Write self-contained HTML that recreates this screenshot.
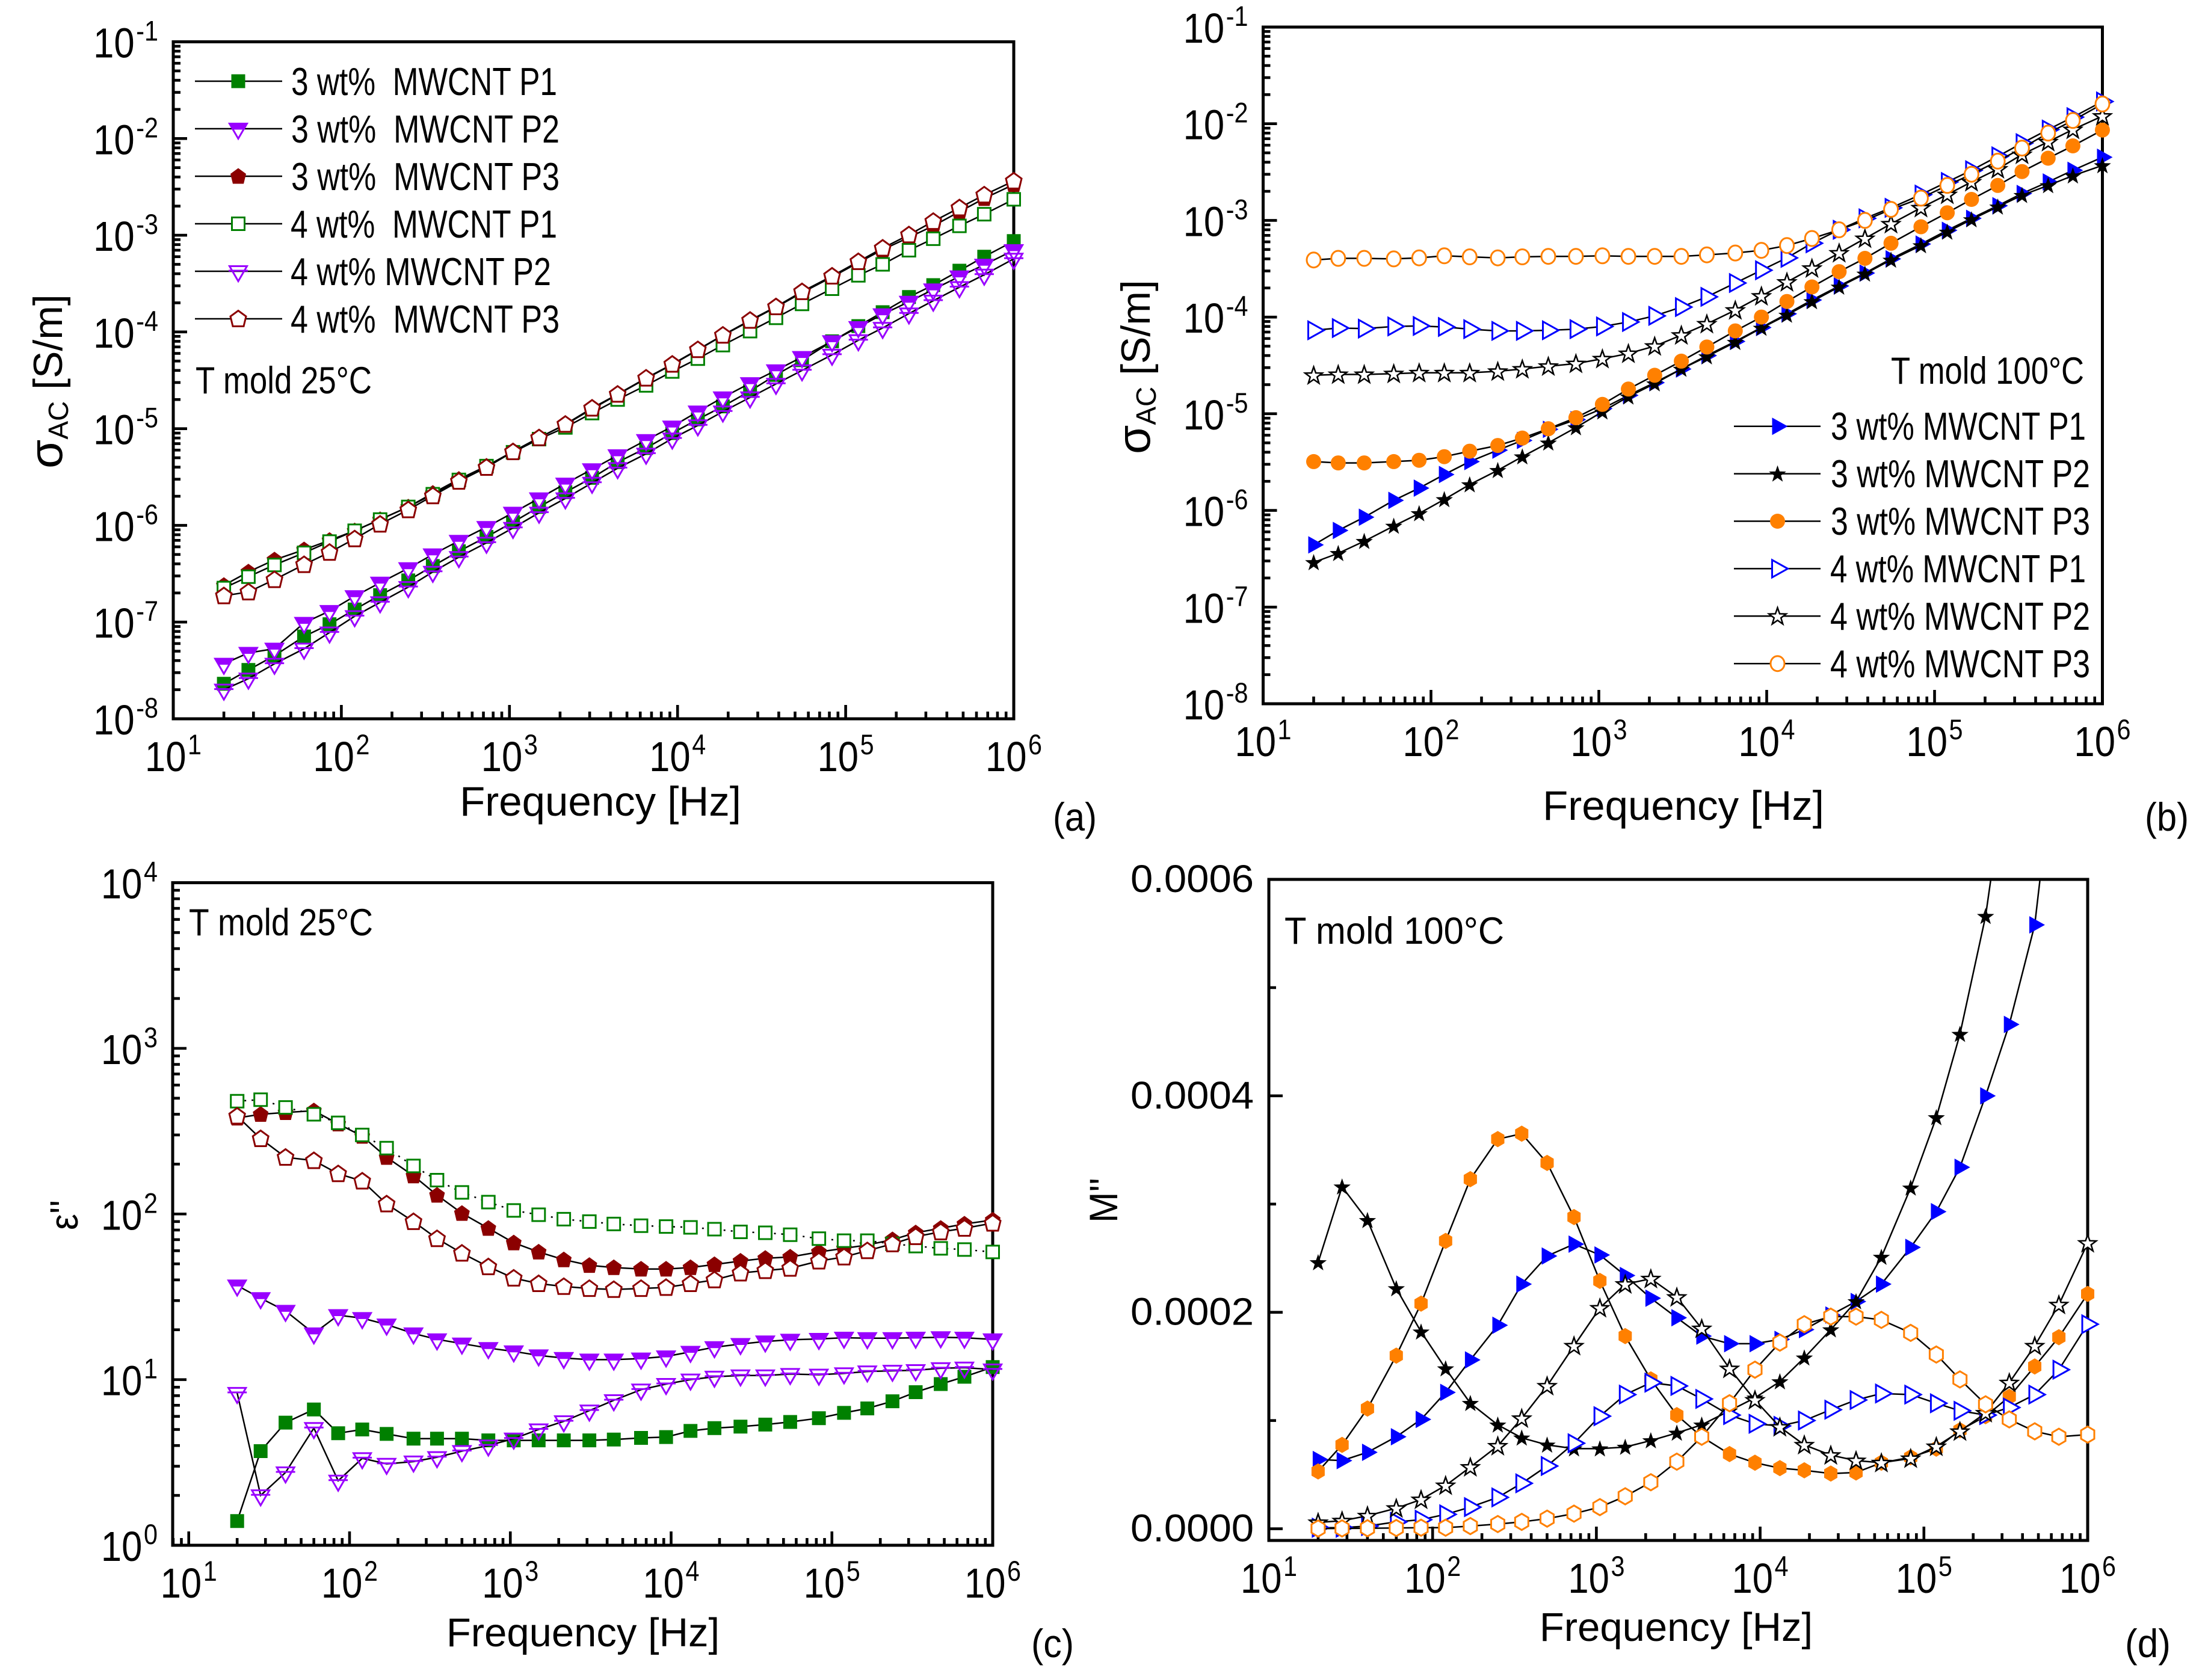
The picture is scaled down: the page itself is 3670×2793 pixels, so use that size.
<!DOCTYPE html>
<html lang="en">
<head>
<meta charset="utf-8">
<title>AC conductivity, permittivity and electric modulus of MWCNT composites</title>
<style>
html,body{margin:0;padding:0;background:#fff;}
svg{display:block;font-family:"Liberation Sans",sans-serif;fill:#000;}
text{white-space:pre;}
</style>
</head>
<body>
<svg id="fig" xmlns="http://www.w3.org/2000/svg" width="3670" height="2793" viewBox="0 0 3670 2793">
  <rect x="0" y="0" width="3670" height="2793" fill="#fff"/>
  <defs>
    <clipPath id="clip-d"><rect x="2079" y="1462" width="1421" height="1130"/></clipPath>
  </defs>
  <g id="panel-a"></g>
  <g id="panel-b"></g>
  <g id="panel-c"></g>
  <g id="panel-d"></g>

  <!-- panel a text -->
  <text x="998" y="1356" text-anchor="middle" font-size="69">Frequency [Hz]</text>
  <text transform="translate(103,634) rotate(-90)" text-anchor="middle" font-size="68"><tspan font-size="78">σ</tspan><tspan font-size="46" dy="10">AC</tspan><tspan dy="-10"> [S/m]</tspan></text>
  <text x="1750" y="1381" font-size="66" textLength="73" lengthAdjust="spacingAndGlyphs">(a)</text>
  <text x="325" y="654" font-size="63" textLength="293" lengthAdjust="spacingAndGlyphs">T mold 25°C</text>
  <text x="484" y="158" font-size="65" textLength="442" lengthAdjust="spacingAndGlyphs">3 wt%  MWCNT P1</text>
  <text x="484" y="237" font-size="65" textLength="446" lengthAdjust="spacingAndGlyphs">3 wt%  MWCNT P2</text>
  <text x="484" y="316" font-size="65" textLength="446" lengthAdjust="spacingAndGlyphs">3 wt%  MWCNT P3</text>
  <text x="483" y="395" font-size="65" textLength="443" lengthAdjust="spacingAndGlyphs">4 wt%  MWCNT P1</text>
  <text x="483" y="474" font-size="65" textLength="433" lengthAdjust="spacingAndGlyphs">4 wt% MWCNT P2</text>
  <text x="483" y="553" font-size="65" textLength="447" lengthAdjust="spacingAndGlyphs">4 wt%  MWCNT P3</text>

  <!-- panel b text -->
  <text x="2798" y="1363" text-anchor="middle" font-size="69">Frequency [Hz]</text>
  <text transform="translate(1911,610) rotate(-90)" text-anchor="middle" font-size="68"><tspan font-size="78">σ</tspan><tspan font-size="46" dy="10">AC</tspan><tspan dy="-10"> [S/m]</tspan></text>
  <text x="3565" y="1381" font-size="66" textLength="73" lengthAdjust="spacingAndGlyphs">(b)</text>
  <text x="3143" y="638" font-size="63" textLength="321" lengthAdjust="spacingAndGlyphs">T mold 100°C</text>
  <text x="3043" y="731" font-size="65" textLength="424" lengthAdjust="spacingAndGlyphs">3 wt% MWCNT P1</text>
  <text x="3043" y="810" font-size="65" textLength="431" lengthAdjust="spacingAndGlyphs">3 wt% MWCNT P2</text>
  <text x="3043" y="889" font-size="65" textLength="431" lengthAdjust="spacingAndGlyphs">3 wt% MWCNT P3</text>
  <text x="3042" y="968" font-size="65" textLength="425" lengthAdjust="spacingAndGlyphs">4 wt% MWCNT P1</text>
  <text x="3042" y="1047" font-size="65" textLength="432" lengthAdjust="spacingAndGlyphs">4 wt% MWCNT P2</text>
  <text x="3042" y="1126" font-size="65" textLength="432" lengthAdjust="spacingAndGlyphs">4 wt% MWCNT P3</text>

  <!-- panel c text -->
  <text x="969" y="2737" text-anchor="middle" font-size="67">Frequency [Hz]</text>
  <text transform="translate(129,2045) rotate(-90)" font-size="66" textLength="50" lengthAdjust="spacingAndGlyphs">ε''</text>
  <text x="1714" y="2755" font-size="66" textLength="71" lengthAdjust="spacingAndGlyphs">(c)</text>
  <text x="314" y="1555" font-size="63" textLength="306" lengthAdjust="spacingAndGlyphs">T mold 25°C</text>

  <!-- panel d text -->
  <text x="2786" y="2728" text-anchor="middle" font-size="67">Frequency [Hz]</text>
  <text transform="translate(1857,2033) rotate(-90)" font-size="66" textLength="75" lengthAdjust="spacingAndGlyphs">M''</text>
  <text x="3532" y="2755" font-size="66" textLength="76" lengthAdjust="spacingAndGlyphs">(d)</text>
  <text x="2135" y="1569" font-size="63" textLength="365" lengthAdjust="spacingAndGlyphs">T mold 100°C</text>
</svg>

<script>
// Shared frequency grid (Hz)
const frequency = [20,28,40,60,85,120,170,250,350,500,730,1050,1500,2150,3100,4400,6500,9300,13200,18600,27000,38500,55000,83000,119000,166000,238000,332000,475000,667000,1000000];

// Panel (a): sigma_AC [S/m], T mold 25 C
const a3P1 = [2.3e-8,3.2e-8,4.5e-8,7.1e-8,9.5e-8,1.35e-7,1.9e-7,2.7e-7,3.8e-7,5.4e-7,7.6e-7,1.08e-6,1.55e-6,2.2e-6,3.1e-6,4.5e-6,6.3e-6,9e-6,1.25e-5,1.7e-5,2.45e-5,3.6e-5,5.1e-5,8e-5,1.15e-4,1.6e-4,2.3e-4,3.05e-4,4.3e-4,6e-4,8.7e-4];
const a3P2 = [3.7e-8,4.8e-8,5.3e-8,9.8e-8,1.3e-7,1.85e-7,2.55e-7,3.6e-7,5e-7,6.9e-7,9.6e-7,1.35e-6,1.9e-6,2.7e-6,3.8e-6,5.3e-6,7.6e-6,1.05e-5,1.5e-5,2.1e-5,2.95e-5,4e-5,5.5e-5,8e-5,1.12e-4,1.52e-4,2.05e-4,2.75e-4,3.75e-4,4.95e-4,7e-4];
const a3P3 = [2.4e-7,3.3e-7,4.4e-7,5.6e-7,7e-7,8.8e-7,1.15e-6,1.55e-6,2.15e-6,3.0e-6,4.1e-6,5.8e-6,8.1e-6,1.1e-5,1.6e-5,2.25e-5,3.3e-5,4.6e-5,6.5e-5,9.2e-5,1.3e-4,1.8e-4,2.55e-4,3.7e-4,5.2e-4,7.1e-4,9.5e-4,1.25e-3,1.75e-3,2.4e-3,3.35e-3];
const a4P1 = [2.25e-7,2.95e-7,3.9e-7,5.2e-7,6.8e-7,8.8e-7,1.15e-6,1.55e-6,2.1e-6,2.95e-6,4.1e-6,5.7e-6,7.8e-6,1.03e-5,1.45e-5,2.0e-5,2.8e-5,3.9e-5,5.3e-5,7.3e-5,1.02e-4,1.4e-4,1.95e-4,2.8e-4,3.85e-4,5e-4,7e-4,9.2e-4,1.25e-3,1.65e-3,2.35e-3];
const a4P2 = [2e-8,2.6e-8,3.7e-8,5.3e-8,7.8e-8,1.15e-7,1.6e-7,2.3e-7,3.3e-7,4.7e-7,6.6e-7,9.4e-7,1.35e-6,1.9e-6,2.75e-6,3.9e-6,5.5e-6,7.9e-6,1.08e-5,1.5e-5,2.1e-5,2.9e-5,4e-5,5.8e-5,8.2e-5,1.1e-4,1.55e-4,2.1e-4,2.9e-4,3.9e-4,5.7e-4];
const a4P3 = [1.87e-7,2.05e-7,2.75e-7,3.93e-7,5.27e-7,7.26e-7,1.03e-6,1.45e-6,2.02e-6,2.86e-6,3.98e-6,5.77e-6,8.05e-6,1.11e-5,1.63e-5,2.27e-5,3.33e-5,4.64e-5,6.56e-5,9.27e-5,1.32e-4,1.82e-4,2.61e-4,3.78e-4,5.34e-4,7.36e-4,1.01e-3,1.39e-3,1.92e-3,2.61e-3,3.64e-3];

// Panel (b): sigma_AC [S/m], T mold 100 C
const b3P1 = [4.4e-7,6.2e-7,8.5e-7,1.27e-6,1.7e-6,2.35e-6,3.2e-6,4.2e-6,5.3e-6,6.9e-6,8.7e-6,1.13e-5,1.55e-5,2.1e-5,2.9e-5,4e-5,5.6e-5,7.8e-5,1.08e-4,1.5e-4,2.1e-4,2.85e-4,4e-4,5.7e-4,7.9e-4,1.05e-3,1.42e-3,1.9e-3,2.5e-3,3.3e-3,4.5e-3];
const b3P2 = [2.9e-7,3.6e-7,4.8e-7,6.9e-7,9.3e-7,1.3e-6,1.85e-6,2.6e-6,3.6e-6,5e-6,7.2e-6,1.05e-5,1.5e-5,2.05e-5,2.9e-5,3.9e-5,5.5e-5,7.7e-5,1.05e-4,1.45e-4,2.05e-4,2.8e-4,3.9e-4,5.5e-4,7.6e-4,1.02e-3,1.38e-3,1.82e-3,2.3e-3,2.9e-3,3.7e-3];
const b3P3 = [3.2e-6,3.1e-6,3.1e-6,3.2e-6,3.3e-6,3.6e-6,4.1e-6,4.7e-6,5.6e-6,7e-6,9.1e-6,1.25e-5,1.8e-5,2.5e-5,3.5e-5,4.9e-5,7.2e-5,1e-4,1.45e-4,2.05e-4,2.95e-4,4.05e-4,5.8e-4,8.6e-4,1.2e-3,1.65e-3,2.3e-3,3.2e-3,4.4e-3,5.9e-3,8.6e-3];
const b4P1 = [7.3e-5,7.7e-5,7.6e-5,8e-5,8.1e-5,7.9e-5,7.5e-5,7.2e-5,7.2e-5,7.3e-5,7.5e-5,8e-5,8.9e-5,1.03e-4,1.27e-4,1.62e-4,2.25e-4,3.05e-4,4.1e-4,5.8e-4,8e-4,1.05e-3,1.35e-3,1.85e-3,2.5e-3,3.3e-3,4.6e-3,6.3e-3,8.7e-3,1.17e-2,1.7e-2];
const b4P2 = [2.5e-5,2.55e-5,2.55e-5,2.6e-5,2.65e-5,2.65e-5,2.65e-5,2.75e-5,2.9e-5,3.1e-5,3.3e-5,3.7e-5,4.2e-5,5e-5,6.5e-5,8.5e-5,1.18e-4,1.65e-4,2.3e-4,3.2e-4,4.6e-4,6.5e-4,9.2e-4,1.35e-3,1.85e-3,2.5e-3,3.4e-3,4.8e-3,6.5e-3,8.7e-3,1.2e-2];
const b4P3 = [3.9e-4,4.05e-4,4.05e-4,4.0e-4,4.1e-4,4.3e-4,4.2e-4,4.1e-4,4.2e-4,4.25e-4,4.25e-4,4.3e-4,4.25e-4,4.25e-4,4.25e-4,4.4e-4,4.6e-4,4.9e-4,5.5e-4,6.5e-4,8e-4,1e-3,1.3e-3,1.7e-3,2.3e-3,3e-3,4.1e-3,5.6e-3,8e-3,1.08e-2,1.6e-2];

// Panel (c): epsilon'', T mold 25 C
const c3P1 = [1.4,3.7,5.5,6.6,4.75,5,4.7,4.4,4.4,4.4,4.3,4.3,4.3,4.3,4.3,4.35,4.45,4.5,4.9,5.1,5.2,5.35,5.55,5.85,6.3,6.7,7.4,8.4,9.4,10.4,11.9];
const c3P2 = [37,31,26,19,24.5,23.5,21.5,19,17.5,16.5,15.5,14.8,14,13.5,13.2,13.2,13.4,13.8,14.7,15.7,16.4,17,17.4,17.6,17.9,17.8,17.8,17.9,18,17.9,17.5];
const c3P3 = [380,400,410,420,350,295,220,170,130,101,82,67,59,53,49,47.5,46.5,46.5,47.5,49.5,52,54,55,59,62,65,70,77,82,87,92];
const c4P1 = [480,490,440,400,355,300,250,195,160,135,118,105,99,93,90,87,85,84,83,81,78,77,75,71,69,69,66,64,62,61,59];
const c4P2 = [8.3,2,2.75,5.1,2.45,3.35,3.1,3.2,3.4,3.7,4,4.4,5,5.6,6.5,7.5,8.7,9.4,10,10.4,10.6,10.6,10.8,10.7,10.9,11.2,11.3,11.4,11.7,11.8,11.5];
const c4P3 = [390,285,220,210,175,158,115,90,71,58,48,41,38,36.5,35.5,35,35.5,36,38,40,44,45.5,47,52,55,60,66,73,78,82,88];

// Panel (d): M'', T mold 100 C
const d3P1 = [6.4e-5,6.3e-5,7.06e-5,8.5e-5,1.01e-4,1.26e-4,1.56e-4,1.88e-4,2.26e-4,2.52e-4,2.63e-4,2.53e-4,2.34e-4,2.13e-4,1.95e-4,1.78e-4,1.71e-4,1.71e-4,1.75e-4,1.84e-4,1.975e-4,2.1e-4,2.26e-4,2.6e-4,2.93e-4,3.34e-4,4.0e-4,4.66e-4,5.58e-4,7.5e-4,1.05e-3];
const d3P2 = [2.46e-4,3.16e-4,2.85e-4,2.22e-4,1.82e-4,1.48e-4,1.16e-4,9.6e-5,8.4e-5,7.75e-5,7.4e-5,7.4e-5,7.55e-5,8.15e-5,8.85e-5,9.6e-5,1.09e-4,1.21e-4,1.36e-4,1.58e-4,1.84e-4,2.1e-4,2.51e-4,3.15e-4,3.8e-4,4.57e-4,5.66e-4,7.2e-4,9.5e-4,1.3e-3,1.8e-3];
const d3P3 = [5.3e-5,7.75e-5,1.11e-4,1.6e-4,2.08e-4,2.66e-4,3.23e-4,3.6e-4,3.65e-4,3.38e-4,2.88e-4,2.29e-4,1.78e-4,1.38e-4,1.05e-4,8.5e-5,6.9e-5,6.1e-5,5.6e-5,5.4e-5,5.1e-5,5.2e-5,6.1e-5,6.6e-5,7.4e-5,9.1e-5,1.04e-4,1.22e-4,1.5e-4,1.77e-4,2.17e-4];
const d4P1 = [1e-6,1e-6,2.5e-6,6.4e-6,8.4e-6,1.33e-5,2e-5,2.9e-5,4.2e-5,5.8e-5,7.9e-5,1.04e-4,1.24e-4,1.35e-4,1.32e-4,1.2e-4,1.05e-4,9.7e-5,9.5e-5,1e-4,1.1e-4,1.19e-4,1.25e-4,1.24e-4,1.16e-4,1.09e-4,1.05e-4,1.12e-4,1.24e-4,1.47e-4,1.89e-4];
const d4P2 = [5.9e-6,7.4e-6,1.2e-5,1.9e-5,2.7e-5,4e-5,5.7e-5,7.65e-5,1.02e-4,1.32e-4,1.69e-4,2.04e-4,2.26e-4,2.31e-4,2.14e-4,1.85e-4,1.48e-4,1.19e-4,9.4e-5,7.75e-5,6.8e-5,6.3e-5,6.1e-5,6.5e-5,7.6e-5,9e-5,1.07e-4,1.35e-4,1.69e-4,2.07e-4,2.64e-4];
const d4P3 = [2e-7,3e-7,5e-7,7e-7,1e-6,1e-6,2.5e-6,4.4e-6,6.4e-6,9.4e-6,1.4e-5,2e-5,3e-5,4.3e-5,6.2e-5,8.5e-5,1.16e-4,1.47e-4,1.72e-4,1.89e-4,1.96e-4,1.96e-4,1.93e-4,1.81e-4,1.61e-4,1.38e-4,1.15e-4,1.01e-4,9e-5,8.5e-5,8.7e-5];

// Tick labels
const xExponents = ['1','2','3','4','5','6'];
const sigmaExponents = ['-1','-2','-3','-4','-5','-6','-7','-8'];
const lossExponents = ['4','3','2','1','0'];
const modulusTicks = [0,0.0002,0.0004,0.0006];
const modulusTickLabels = ['0.0000','0.0002','0.0004','0.0006'];

const SVGNS = 'http://www.w3.org/2000/svg';
const GREEN = '#008000', PURPLE = '#9900ff', DARKRED = '#8b0000', BLUE = '#0000ff', ORANGE = '#ff8000', BLACK = '#000';

const panels = {
  a: {x0:288, x1:1685, y0:69.5, y1:1195, xMin:1, yLogMax:-1, yLogMin:-8},
  b: {x0:2099.5, x1:3494.5, y0:45, y1:1170, xMin:1, yLogMax:-1, yLogMin:-8},
  c: {x0:287, x1:1650, y0:1467.5, y1:2569, xMin:0.9, yLogMax:4, yLogMin:0},
  d: {x0:2109, x1:3470, y0:1462, y1:2561, xMin:1, yLinMax:0.0006, yLinMin:-0.0000108}
};

function mk(tag, parent) {
  const el = document.createElementNS(SVGNS, tag);
  parent.appendChild(el);
  return el;
}
function xScale(p, f) {
  return p.x0 + (Math.log10(f) - p.xMin) / (6 - p.xMin) * (p.x1 - p.x0);
}
function yScale(p, v) {
  if (p.yLinMax !== undefined) {
    return p.y0 + (p.yLinMax - v) / (p.yLinMax - p.yLinMin) * (p.y1 - p.y0);
  }
  return p.y0 + (p.yLogMax - Math.log10(v)) / (p.yLogMax - p.yLogMin) * (p.y1 - p.y0);
}
function poly(pts) {
  return 'M' + pts.map(q => q[0].toFixed(1) + ' ' + q[1].toFixed(1)).join('L') + 'Z';
}
function star(R) {
  const pts = [];
  for (let i = 0; i < 10; i++) {
    const r = i % 2 ? R * 0.4 : R;
    const t = -Math.PI / 2 + i * Math.PI / 5;
    pts.push([r * Math.cos(t), r * Math.sin(t) + 1]);
  }
  return poly(pts);
}
const shapes = {
  square: poly([[-11.5,-11.5],[11.5,-11.5],[11.5,11.5],[-11.5,11.5]]),
  openSquare: poly([[-10.5,-10.5],[10.5,-10.5],[10.5,10.5],[-10.5,10.5]]),
  triDown: poly([[-14.5,-8.5],[14.5,-8.5],[0,16.5]]),
  triBand: poly([[-14.5,-8.5],[14.5,-8.5],[9,1],[-9,1]]),
  bar: 'M-16 -1L16 -1',
  pentagon: poly([[0,-13.5],[13,-4],[9,12.5],[-9,12.5],[-13,-4]]),
  triRight: poly([[-9,-14.5],[17,0],[-9,14.5]]),
  star: star(15),
  circle: 'M-12.5 0A12.5 12.5 0 1 0 12.5 0A12.5 12.5 0 1 0 -12.5 0Z',
  openCircle: 'M-11.5 0A11.5 12.5 0 1 0 11.5 0A11.5 12.5 0 1 0 -11.5 0Z',
  hexagon: poly([[0,-13.5],[11,-7],[11,7],[0,13.5],[-11,7],[-11,-7]])
};

function drawMarker(parent, kind, color, x, y) {
  const g = mk('g', parent);
  
  
  g.setAttribute('transform', 'translate(' + x.toFixed(1) + ',' + y.toFixed(1) + ')');
  function part(d, fill, stroke, sw) {
    const s = mk('path', g);
    s.setAttribute('d', d);
    s.setAttribute('fill', fill);
    s.setAttribute('stroke', stroke);
    s.setAttribute('stroke-width', sw);
  }
  switch (kind) {
    case 'fsquare': part(shapes.square, color, 'none', 0); break;
    case 'osquare': part(shapes.openSquare, '#fff', color, 3); break;
    case 'ftri':
      part(shapes.triDown, '#fff', color, 3);
      part(shapes.triBand, color, color, 1);
      break;
    case 'otri':
      part(shapes.triDown, 'none', color, 3);
      part(shapes.bar, 'none', color, 3);
      break;
    case 'fpent': part(shapes.pentagon, color, 'none', 0); break;
    case 'opent': part(shapes.pentagon, '#fff', color, 3); break;
    case 'frtri': part(shapes.triRight, color, 'none', 0); break;
    case 'ortri': part(shapes.triRight, '#fff', color, 3); break;
    case 'fstar': part(shapes.star, color, 'none', 0); break;
    case 'ostar': part(shapes.star, '#fff', color, 2.5); break;
    case 'fcircle': part(shapes.circle, color, 'none', 0); break;
    case 'ocircle': part(shapes.openCircle, '#fff', color, 3); break;
    case 'fhex': part(shapes.hexagon, color, 'none', 0); break;
    case 'ohex': part(shapes.hexagon, '#fff', color, 3); break;
  }
}

function drawTick(parent, x1, y1, x2, y2) {
  const t = mk('line', parent);
  
  
  t.setAttribute('x1', x1);
  t.setAttribute('y1', y1);
  t.setAttribute('x2', x2);
  t.setAttribute('y2', y2);
  t.setAttribute('stroke', '#000');
  t.setAttribute('stroke-width', 4.6);
}

function powerLabel(parent, x, y, exp, anchor) {
  const t = mk('text', parent);
  
  
  t.setAttribute('transform', 'translate(' + x + ',' + y + ') scale(0.88,1)');
  t.setAttribute('text-anchor', anchor);
  t.setAttribute('font-size', 70);
  t.textContent = '10';
  const s = mk('tspan', t);
  s.setAttribute('font-size', 47);
  s.setAttribute('dy', -28);
  s.setAttribute('dx', 3);
  s.textContent = exp;
}

function drawXAxis(p, g) {
  for (let d = 0; d < 7; d++) {
    for (let m = 1; m < 10; m++) {
      const lf = d + Math.log10(m);
      if (lf < p.xMin - 1e-9 || lf > 6 + 1e-9) continue;
      const x = xScale(p, Math.pow(10, lf));
      drawTick(g, x, p.y1, x, p.y1 - (m === 1 ? 23 : 12));
    }
  }
  xExponents.forEach((e, i) => {
    powerLabel(g, xScale(p, Math.pow(10, i + 1)), p.y1 + 87, e, 'middle');
  });
}
function drawLogYAxis(p, g, exps) {
  for (let d = p.yLogMin; d <= p.yLogMax; d++) {
    for (let m = 1; m < 10; m++) {
      if (d === p.yLogMax && m > 1) break;
      const y = yScale(p, m * Math.pow(10, d));
      drawTick(g, p.x0, y, p.x0 + (m === 1 ? 23 : 12), y);
    }
  }
  exps.forEach(e => {
    powerLabel(g, p.x0 - 25, yScale(p, Math.pow(10, Number(e))) + 26, e, 'end');
  });
}
function drawLinYAxis(p, g, ticks, labels) {
  ticks.forEach((v, i) => {
    const y = yScale(p, v);
    drawTick(g, p.x0, y, p.x0 + 23, y);
    if (i < ticks.length - 1) {
      const ym = yScale(p, v + 0.0001);
      drawTick(g, p.x0, ym, p.x0 + 12, ym);
    }
    const t = mk('text', g);
    
    
    t.setAttribute('x', p.x0 - 25);
    t.setAttribute('y', y + 21);
    t.setAttribute('text-anchor', 'end');
    t.setAttribute('font-size', 64);
    t.setAttribute('textLength', 205);
    t.setAttribute('lengthAdjust', 'spacingAndGlyphs');
    t.textContent = labels[i];
  });
}
function drawFrame(p, g) {
  const r = mk('rect', g);
  
  
  r.setAttribute('x', p.x0);
  r.setAttribute('y', p.y0);
  r.setAttribute('width', p.x1 - p.x0);
  r.setAttribute('height', p.y1 - p.y0);
  r.setAttribute('fill', 'none');
  r.setAttribute('stroke', '#000');
  r.setAttribute('stroke-width', 5);
}
function drawSeries(p, g, values, kind, color, dash) {
  const sg = mk('g', g);
  
  
  const pts = values.map((v, i) => [xScale(p, frequency[i]), yScale(p, v)]);
  const line = mk('polyline', sg);
  
  
  line.setAttribute('points', pts.map(q => q[0].toFixed(1) + ',' + q[1].toFixed(1)).join(' '));
  line.setAttribute('fill', 'none');
  line.setAttribute('stroke', '#000');
  line.setAttribute('stroke-width', 2.5);
  if (dash) line.setAttribute('stroke-dasharray', dash);
  pts.forEach(q => drawMarker(sg, kind, color, q[0], q[1]));
}
function drawLegendRow(g, xa, xb, xm, y, kind, color) {
  const l = mk('line', g);
  
  
  l.setAttribute('x1', xa);
  l.setAttribute('x2', xb);
  l.setAttribute('y1', y);
  l.setAttribute('y2', y);
  l.setAttribute('stroke', '#000');
  l.setAttribute('stroke-width', 2.5);
  drawMarker(g, kind, color, xm, y);
}

// Panel a
(function () {
  const p = panels.a, g = document.getElementById('panel-a');
  drawXAxis(p, g);
  drawLogYAxis(p, g, sigmaExponents);
  drawFrame(p, g);
  const list = [[a3P1,'fsquare',GREEN],[a3P2,'ftri',PURPLE],[a3P3,'fpent',DARKRED],[a4P1,'osquare',GREEN],[a4P2,'otri',PURPLE],[a4P3,'opent',DARKRED]];
  list.forEach((s, i) => {
    drawSeries(p, g, s[0], s[1], s[2]);
    drawLegendRow(g, 324, 469, 396, 135 + i * 79, s[1], s[2]);
  });
})();

// Panel b
(function () {
  const p = panels.b, g = document.getElementById('panel-b');
  drawXAxis(p, g);
  drawLogYAxis(p, g, sigmaExponents);
  drawFrame(p, g);
  const list = [[b3P1,'frtri',BLUE],[b3P2,'fstar',BLACK],[b3P3,'fcircle',ORANGE],[b4P1,'ortri',BLUE],[b4P2,'ostar',BLACK],[b4P3,'ocircle',ORANGE]];
  list.forEach((s, i) => {
    drawSeries(p, g, s[0], s[1], s[2]);
    drawLegendRow(g, 2882, 3026, 2954.5, 708.7 + i * 78.9, s[1], s[2]);
  });
})();

// Panel c
(function () {
  const p = panels.c, g = document.getElementById('panel-c');
  drawXAxis(p, g);
  drawLogYAxis(p, g, lossExponents);
  drawFrame(p, g);
  drawSeries(p, g, c3P1, 'fsquare', GREEN);
  drawSeries(p, g, c3P2, 'ftri', PURPLE);
  drawSeries(p, g, c3P3, 'fpent', DARKRED);
  drawSeries(p, g, c4P1, 'osquare', GREEN, '3 9');
  drawSeries(p, g, c4P2, 'otri', PURPLE);
  drawSeries(p, g, c4P3, 'opent', DARKRED);
})();

// Panel d
(function () {
  const p = panels.d, g = document.getElementById('panel-d');
  drawXAxis(p, g);
  drawLinYAxis(p, g, modulusTicks, modulusTickLabels);
  drawFrame(p, g);
  const clipped = mk('g', g);
  
  
  clipped.setAttribute('clip-path', 'url(#clip-d)');
  drawSeries(p, clipped, d3P1, 'frtri', BLUE);
  drawSeries(p, clipped, d3P2, 'fstar', BLACK);
  drawSeries(p, clipped, d3P3, 'fhex', ORANGE);
  drawSeries(p, clipped, d4P1, 'ortri', BLUE);
  drawSeries(p, clipped, d4P2, 'ostar', BLACK);
  drawSeries(p, clipped, d4P3, 'ohex', ORANGE);
})();
</script>
</body>
</html>
